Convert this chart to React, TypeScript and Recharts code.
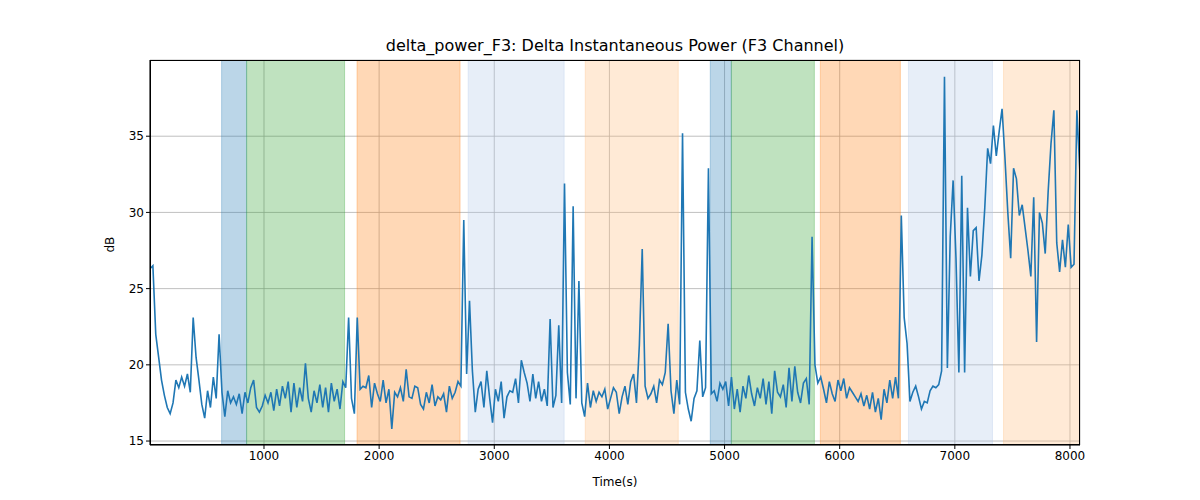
import React from "react";
import { ComposedChart, Line, XAxis, YAxis, CartesianGrid, ReferenceArea } from "recharts";

// samples are 25 s apart, starting at t = 10
const startTime = 10;
const sampleStep = 25;

const power = [
    26.3, 26.5, 22, 20.5, 19, 18, 17.2, 16.8, 17.5, 19,
    18.5, 19.2, 18.6, 19.4, 18.2, 23.1, 20.5, 19, 17.4, 16.5,
    18.3, 17.2, 19.2, 17.8, 22, 18.2, 16.6, 18.3, 17.5, 17.9,
    17.4, 18.1, 16.8, 18.2, 17.5, 18.5, 19, 17.2, 16.9, 17.3,
    18, 17.5, 18.2, 17, 18.4, 17.3, 18.6, 17.8, 18.9, 16.9,
    18.8, 17.2, 18.5, 17.6, 20.1, 17.8, 16.9, 18.3, 17.5, 18.7,
    17.2, 18.5, 16.9, 18.8, 17.6, 18.4, 17.1, 18.9, 18.5, 23.1,
    17.8, 16.8, 23.1, 18.4, 18.6, 18.5, 19.3, 17.2, 18.8, 18.1,
    17.6, 19, 17.5, 18.4, 15.8, 18.2, 17.9, 18.5, 17.6, 19.7,
    17.9, 17.8, 18.6, 18.5, 17.4, 17.1, 18.2, 17.5, 18.7, 17.3,
    17.9, 17.7, 18.1, 16.9, 18.6, 17.8, 18.2, 18.9, 18.6, 29.5,
    19.4, 24.2, 19.6, 16.9, 18.4, 18.9, 17.2, 19.6, 17.8, 16.2,
    18.4, 17.6, 18.9, 16.5, 17.9, 18.3, 18.2, 19.1, 17.5, 20.3,
    19.5, 18.8, 17.6, 19.4, 17.8, 18.9, 17.6, 18.4, 17.3, 23,
    17.2, 18, 22.6, 17.5, 31.9, 19.5, 17.4, 30.4, 17.8, 25.5,
    17.5, 16.6, 18.8, 17.2, 18.3, 17.6, 18.2, 17.9, 18.4, 17.1,
    17.8, 18.5, 18.2, 16.8, 17.9, 18.6, 17.4, 18.9, 19.4, 17.5,
    21.3, 27.6, 18.6, 17.8, 18.1, 18.6, 17.5, 19, 18.7, 19.5,
    22.7, 18.3, 16.8, 19, 17.4, 35.2, 18.2, 17.1, 16.3, 17.8,
    18.3, 21.6, 17.9, 18.5, 32.9, 18.1, 18.3, 17.6, 18.8, 18.4,
    18.9, 17.3, 19.2, 17.1, 18.4, 16.9, 18.6, 17.8, 19.3, 18.1,
    17.3, 18.5, 17.8, 19.1, 17.4, 18.9, 16.8, 19.6, 18.2, 17.9,
    18.7, 17.2, 19.8, 17.6, 19.9, 18.2, 17.5, 18.8, 19.1, 17.4,
    28.4, 20, 18.8, 19.2, 18.4, 17.5, 18.9, 18.1, 17.6, 19,
    18.3, 19.1, 17.8, 18.5, 18.2, 17.9, 17.6, 18.1, 17.3, 18,
    17.1, 18.2, 16.9, 17.8, 16.4, 18.4, 17.5, 19, 17.8, 19.2,
    17.8, 29.8, 23.1, 21.4, 17.6, 18.2, 18.6, 17.9, 17.1, 17.6,
    17.5, 18.3, 18.6, 18.5, 18.7, 19.6, 38.9, 19.8, 28.4, 32.1,
    27, 19.5, 32.4, 19.5, 30.3, 25.8, 28.8, 29, 25.5, 27.2,
    30.3, 34.2, 33.2, 35.7, 33.7, 35.3, 36.8, 33.6, 30, 27,
    32.9, 32.2, 29.8, 30.5, 29, 27.5, 25.8, 31, 21.5, 30,
    29.3, 27.3, 31.3, 34.5, 36.7, 28, 26.1, 28.2, 26.4, 29.2,
    26.4, 26.6, 36.7, 32.8,
];

const bandStarts = [632, 849, 1808, 2773, 3790, 4876, 5059, 5832, 6597, 7423];
const bandEnds = [849, 1700, 2703, 3607, 4598, 5059, 5780, 6527, 7327, 8087];
const bandColors = ["#1f77b4", "#2ca02c", "#ff7f0e", "#aec7e8", "#ffbb78", "#1f77b4", "#2ca02c", "#ff7f0e", "#aec7e8", "#ffbb78"];

const xTicks = [1000, 2000, 3000, 4000, 5000, 6000, 7000, 8000];
const yTicks = [15, 20, 25, 30, 35];

const data = power.map((v, i) => ({ t: startTime + i * sampleStep, v }));

const font = "DejaVu Sans";

export default function App() {
    return (
        <div style={{ position: "absolute", left: 0, top: 0, width: 1200, height: 500, background: "#fff", fontFamily: font }}>
            <div style={{ position: "absolute", top: 36, left: 150, width: 930, textAlign: "center", fontSize: 16, color: "#000" }}>
                delta_power_F3: Delta Instantaneous Power (F3 Channel)
            </div>
            <ComposedChart width={1200} height={500} data={data} margin={{ top: 60, right: 120, bottom: 25, left: 90 }}>
                {bandStarts.map((s, i) => (
                    <ReferenceArea key={i} x1={s} x2={bandEnds[i]} fill={bandColors[i]} fillOpacity={0.3} stroke={bandColors[i]} strokeOpacity={0.3} ifOverflow="hidden" />
                ))}
                <CartesianGrid stroke="#b0b0b0" strokeWidth={0.8} />
                <XAxis dataKey="t" type="number" domain={[10, 8087]} ticks={xTicks} allowDataOverflow height={30}
                    tick={{ fill: "#000", fontSize: 12, fontFamily: font }} tickSize={4} tickLine={{ stroke: "#000" }} axisLine={{ stroke: "#000" }}
                    label={{ value: "Time(s)", position: "insideBottom", offset: -11, fill: "#000", fontSize: 12, fontFamily: font }} />
                <YAxis type="number" domain={[14.74, 40]} ticks={yTicks} allowDataOverflow width={60}
                    tick={{ fill: "#000", fontSize: 12, fontFamily: font }} tickSize={4} tickLine={{ stroke: "#000" }} axisLine={{ stroke: "#000" }}
                    label={{ value: "dB", angle: -90, position: "insideLeft", offset: 20, fill: "#000", fontSize: 12, fontFamily: font }} />
                <Line dataKey="v" type="linear" stroke="#1f77b4" strokeWidth={1.6} dot={false} isAnimationActive={false} />
            </ComposedChart>
            <div style={{ position: "absolute", left: 150, top: 60, width: 930, height: 385, border: "1px solid #000", boxSizing: "border-box", pointerEvents: "none" }} />
        </div>
    );
}
